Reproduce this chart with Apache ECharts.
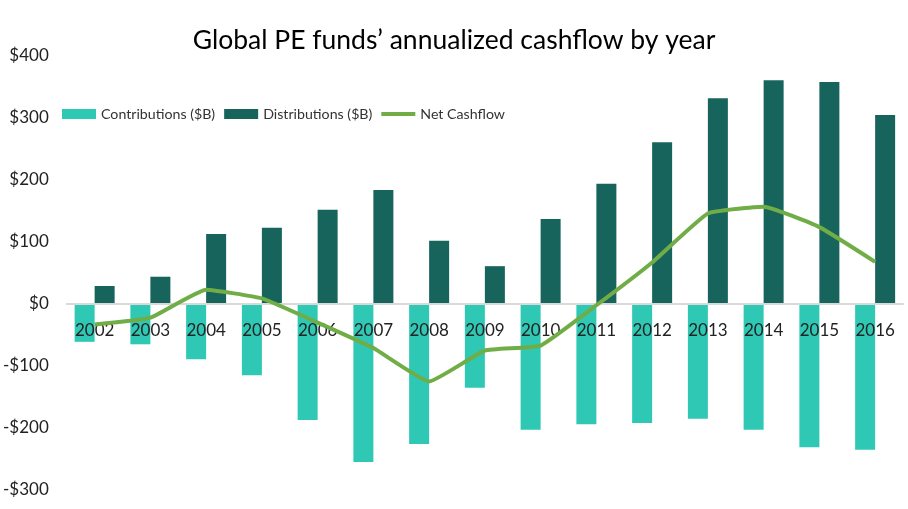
<!DOCTYPE html>
<html>
<head>
<meta charset="utf-8">
<script src="https://cdn.jsdelivr.net/npm/echarts@6/dist/echarts.min.js"></script>
<style>
  html, body { margin: 0; padding: 0; background: #fff; }
  #main { width: 908px; height: 509px; }
</style>
</head>
<body>
<div id="main"></div>
<script>
    var years = ['2002', '2003', '2004', '2005', '2006', '2007', '2008', '2009',
        '2010', '2011', '2012', '2013', '2014', '2015', '2016'];
    var contributions = [-61, -65, -89, -115, -187, -255, -226, -135, -203, -194, -192, -185, -203, -231, -235];
    var distributions = [29, 44, 113, 123, 152, 184, 102, 61, 137, 194, 261, 332, 361, 358, 305];
    var netCashflow = [-33, -22, 23, 9, -30, -71, -125, -75, -67, -2, 67, 146, 157, 124, 68];

    var myChart = echarts.init(document.getElementById('main'));
    var font = 'Lato, "Open Sans", sans-serif';

    var option = {
        animation: false,
        textStyle: { fontFamily: font },
        title: {
            text: 'Global PE funds\u2019 annualized cashflow by year',
            left: 'center',
            top: 22,
            textStyle: { fontSize: 26.5, fontWeight: 'normal', color: '#000', fontFamily: font }
        },
        legend: {
            left: 57,
            top: 102,
            itemWidth: 34,
            itemHeight: 10,
            itemGap: 9,
            textStyle: { fontSize: 14.2, color: '#333', fontFamily: font },
            data: [
                { name: 'Contributions ($B)', icon: 'rect' },
                { name: 'Distributions ($B)', icon: 'rect' },
                { name: 'Net Cashflow', icon: 'path://M0,0 L34,0 L34,4 L0,4 Z' }
            ]
        },
        grid: { left: 65, right: 5, top: 56, bottom: 19, containLabel: false },
        xAxis: {
            type: 'category',
            data: years,
            z: 10,
            axisLine: { onZero: true, lineStyle: { color: '#d9d9d9', width: 2 } },
            axisTick: { show: false },
            // labels sit just under the zero line, as in the original
            axisLabel: { fontSize: 17, color: '#222', margin: -168, fontFamily: font }
        },
        yAxis: {
            type: 'value',
            min: -300,
            max: 400,
            interval: 100,
            splitLine: { show: false },
            axisLine: { show: false },
            axisTick: { show: false },
            axisLabel: {
                fontSize: 17,
                color: '#222',
                margin: 18,
                fontFamily: font,
                formatter: function(v) {
                    return v < 0 ? '-$' + Math.abs(v) : '$' + v;
                }
            }
        },
        series: [
            {
                name: 'Contributions ($B)',
                type: 'bar',
                data: contributions,
                barWidth: 20,
                barGap: '0%',
                itemStyle: { color: '#2ec8b5' }
            },
            {
                name: 'Distributions ($B)',
                type: 'bar',
                data: distributions,
                barWidth: 20,
                barGap: '0%',
                itemStyle: { color: '#17645c' }
            },
            {
                name: 'Net Cashflow',
                type: 'line',
                data: netCashflow,
                smooth: 0.12,
                symbol: 'none',
                z: 12,
                lineStyle: { color: '#70ad47', width: 4 },
                itemStyle: { color: '#70ad47' }
            }
        ]
    };

    myChart.setOption(option);
</script>
</body>
</html>
